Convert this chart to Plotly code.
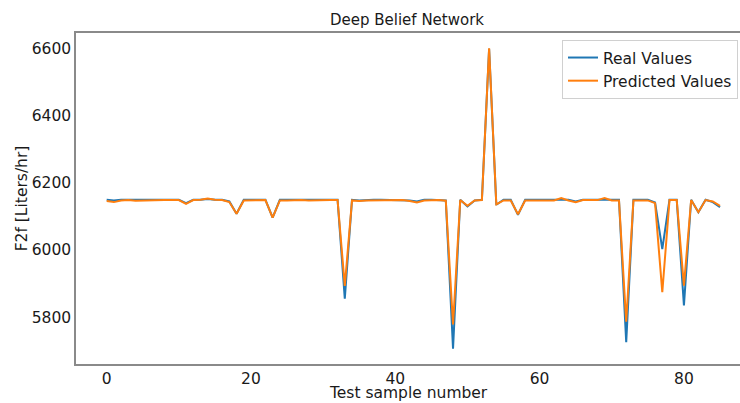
import plotly.graph_objects as go

sample_idx = list(range(86))

real_values = [
    6150, 6148, 6150, 6150, 6150, 6150, 6150, 6150, 6150, 6150,
    6150, 6140, 6150, 6150, 6152, 6150, 6150, 6145, 6108, 6150,
    6150, 6150, 6150, 6097, 6150, 6150, 6150, 6150, 6150, 6150,
    6150, 6150, 6150, 5855, 6150, 6148, 6150, 6150, 6150, 6150,
    6150, 6150, 6148, 6145, 6150, 6150, 6150, 6148, 5706, 6150,
    6130, 6148, 6150, 6600, 6135, 6150, 6150, 6105, 6150, 6150,
    6150, 6150, 6150, 6152, 6150, 6145, 6150, 6150, 6150, 6152,
    6150, 6150, 5725, 6150, 6150, 6150, 6142, 6003, 6150, 6150,
    5835, 6150, 6113, 6150, 6143, 6128,
]

predicted_values = [
    6146, 6143, 6148, 6149, 6147, 6148, 6149, 6149, 6149, 6149,
    6149, 6138, 6149, 6150, 6154, 6150, 6149, 6143, 6108, 6148,
    6148, 6148, 6149, 6097, 6148, 6148, 6149, 6149, 6148, 6149,
    6149, 6149, 6149, 5893, 6148, 6146, 6148, 6148, 6149, 6149,
    6149, 6149, 6146, 6142, 6148, 6149, 6149, 6147, 5778, 6149,
    6132, 6148, 6149, 6602, 6136, 6148, 6148, 6107, 6148, 6148,
    6149, 6148, 6148, 6155, 6148, 6143, 6149, 6149, 6149, 6155,
    6148, 6148, 5786, 6148, 6148, 6148, 6140, 5874, 6149, 6149,
    5894, 6149, 6113, 6149, 6145, 6132,
]

x_ticks = [0, 20, 40, 60, 80]
y_ticks = [5800, 6000, 6200, 6400, 6600]

FONT = "DejaVu Sans"
TXT = "#1a1a1a"
SPINE = "#8a8a8a"
FS = 15.5
X_RANGE = [-4.25, 87.77]
Y_RANGE = [5660, 6647.5]

fig = go.Figure()
fig.add_trace(go.Scatter(x=sample_idx, y=real_values, mode="lines",
                         name="Real Values",
                         line=dict(color="#1f77b4", width=2)))
fig.add_trace(go.Scatter(x=sample_idx, y=predicted_values, mode="lines",
                         name="Predicted Values",
                         line=dict(color="#ff7f0e", width=2)))

fig.update_layout(
    width=740, height=403,
    margin=dict(l=76, r=0, t=33, b=39),
    paper_bgcolor="white", plot_bgcolor="white",
    font=dict(family=FONT, size=FS, color=TXT),
    title=dict(text="Deep Belief Network", x=407 / 740, xref="container",
               xanchor="center", y=1 - 20 / 403, yref="container",
               yanchor="middle", font=dict(size=15, color=TXT)),
    showlegend=True,
    legend=dict(x=0.997, y=0.979, xanchor="right", yanchor="top",
                bgcolor="rgba(255,255,255,0.85)", bordercolor="#d0d0d0",
                borderwidth=1, font=dict(size=FS, color=TXT),
                tracegroupgap=0),
    annotations=[dict(text="Test sample number", xref="paper", yref="paper",
                      x=0.5, y=-39 / 331, xanchor="center", yanchor="bottom",
                      showarrow=False, borderpad=0,
                      font=dict(size=FS, color=TXT))],
    # overlay axes that only draw the outside tick marks
    xaxis2=dict(overlaying="x", side="bottom", anchor="y", range=X_RANGE,
                tickmode="array", tickvals=x_ticks, showticklabels=False,
                ticks="outside", ticklen=4, tickcolor=SPINE, tickwidth=1.2,
                showgrid=False, zeroline=False, showline=False),
    yaxis2=dict(overlaying="y", side="left", anchor="x", range=Y_RANGE,
                tickmode="array", tickvals=y_ticks, showticklabels=False,
                ticks="outside", ticklen=4, tickcolor=SPINE, tickwidth=1.2,
                showgrid=False, zeroline=False, showline=False),
)

fig.layout.xaxis.update(
    range=X_RANGE, tickmode="array", tickvals=x_ticks,
    showgrid=False, zeroline=False,
    showline=True, linecolor=SPINE, linewidth=1.5, mirror=True,
    ticks="", tickfont=dict(size=FS, color=TXT),
)
fig.layout.yaxis.update(
    range=Y_RANGE, tickmode="array", tickvals=y_ticks,
    showgrid=False, zeroline=False,
    showline=True, linecolor=SPINE, linewidth=1.5, mirror=False,
    ticks="", tickfont=dict(size=FS, color=TXT),
    title=dict(text="F2f [Liters/hr]", standoff=0, font=dict(size=FS, color=TXT)),
)

fig.write_html("out.html")
